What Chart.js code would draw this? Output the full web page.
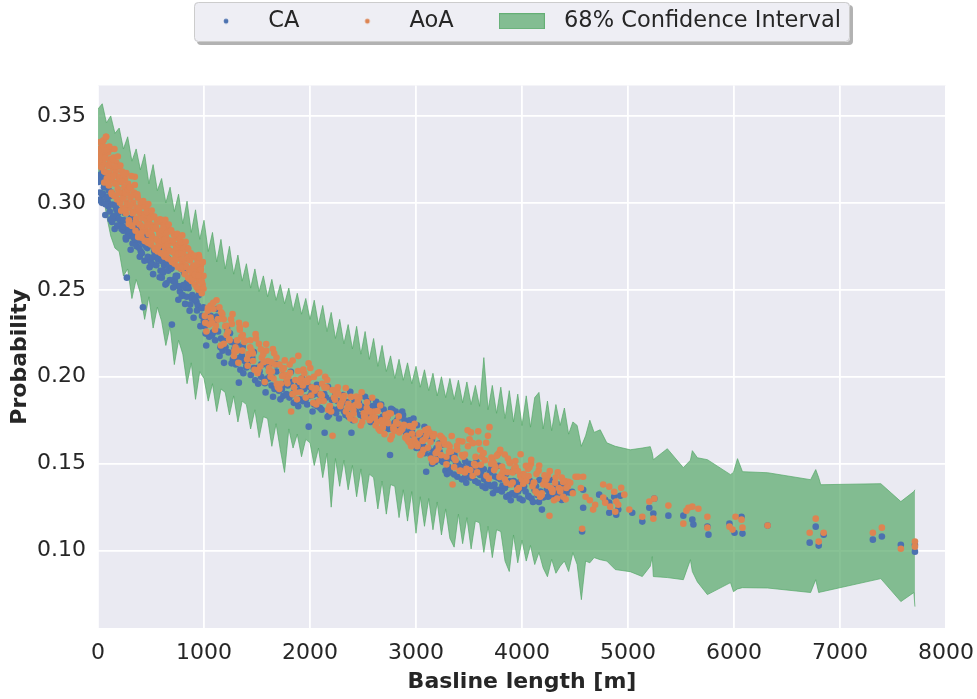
<!DOCTYPE html>
<html><head><meta charset="utf-8">
<script src="https://cdn.jsdelivr.net/npm/chart.js@4.4.1/dist/chart.umd.min.js"></script>
<style>html,body{margin:0;padding:0;background:#fff}#wrap{width:977px;height:699px}</style>
</head><body><div id="wrap"><canvas id="c" width="977" height="699"></canvas></div>
<script>
// ---------- tick values ----------
const xTicks = [0,1000,2000,3000,4000,5000,6000,7000,8000];
const yTicks = [0.10,0.15,0.20,0.25,0.30,0.35];
const seriesNames = ['CA','AoA','68% Confidence Interval'];

// ---------- 68% confidence band ----------
const bandX = [0,40,80,120,160,200,240,280,320,360,400,440,480,520,560,600,640,680,720,760,
800,840,880,920,960,1000,1040,1080,1120,1160,1200,1240,1280,1320,1360,1400,1440,1480,1520,1560,
1600,1640,1680,1720,1760,1800,1840,1880,1920,1960,2000,2040,2080,2120,2160,2200,2240,2280,2320,2360,
2400,2440,2480,2520,2560,2600,2640,2680,2720,2760,2800,2840,2880,2920,2960,3000,3040,3080,3120,3160,
3200,3240,3280,3320,3360,3400,3440,3480,3520,3560,3600,3640,3680,3720,3760,3800,3840,3880,3920,3960,
4000,4040,4080,4120,4160,4200,4240,4280,4320,4360,4400,4440,4480,4520,4560,4600,4640,4680,
4738,4800,4880,5021,5135,5210,5229,5239,5371,5522,5589,5607,5655,5749,5967,5995,6033,6080,6317,6723,
6771,6799,6818,7385,7574,7697,7707];
const bandUpper = [.354,.357,.346,.350,.340,.343,.331,.338,.324,.331,.319,.328,.311,.322,.307,.314,.300,.309,.295,.305,
.288,.301,.283,.296,.279,.290,.272,.283,.266,.279,.262,.275,.259,.270,.255,.265,.251,.262,.249,.258,
.246,.256,.244,.253,.242,.251,.238,.248,.236,.245,.233,.244,.230,.241,.226,.237,.222,.233,.219,.230,
.216,.229,.213,.226,.210,.222,.206,.218,.203,.212,.199,.210,.198,.208,.196,.206,.194,.204,.192,.202,
.189,.200,.188,.199,.187,.198,.185,.197,.184,.195,.183,.211,.181,.195,.179,.194,.176,.192,.174,.190,
.172,.189,.171,.188,.191,.170,.186,.169,.184,.172,.182,.167,.174,.172,.160,.166,.175,.168,
.1695,.162,.160,.158,.159,.1598,.156,.1523,.1586,.1477,.152,.1575,.1534,.1523,.1437,.145,.1529,.1454,.1448,.1408,
.1466,.142,.1379,.1385,.1282,.134,.135];
const bandLower = [.318,.308,.293,.281,.274,.272,.258,.262,.245,.256,.248,.233,.246,.228,.240,.232,.218,.229,.207,.221,
.213,.196,.208,.187,.203,.199,.186,.196,.180,.193,.191,.178,.189,.174,.186,.184,.170,.181,.165,.177,
.176,.160,.173,.158,.145,.170,.159,.167,.154,.164,.162,.149,.159,.142,.156,.125,.153,.137,.152,.135,
.149,.131,.147,.128,.144,.142,.124,.140,.121,.138,.137,.119,.135,.117,.134,.110,.131,.114,.130,.112,
.128,.109,.124,.107,.102,.121,.104,.119,.101,.117,.116,.099,.114,.096,.112,.111,.094,.088,.109,.093,
.106,.094,.103,.092,.099,.090,.085,.095,.087,.091,.094,.088,.0989,.092,.0718,.094,.093,.096,
.0948,.094,.0891,.0879,.0851,.091,.0966,.0851,.0845,.0833,.0948,.088,.082,.0747,.0816,.0764,.078,.0787,.0785,.0759,
.0833,.0759,.0762,.0839,.0707,.0759,.0678];

// ---------- CA (blue) ----------
const caX = [3,8,14,19,26,31,37,44,50,56,63,69,76,83,90,97,104,111,118,125,
133,141,149,157,165,173,181,189,197,205,214,222,231,239,246,255,264,272,281,290,
299,308,317,326,336,345,355,364,374,384,394,404,414,424,434,444,454,465,476,482,
487,498,509,520,531,543,554,566,578,590,602,614,624,636,648,660,672,684,697,709,
722,734,747,760,773,786,799,812,825,838,851,864,877,890,903,916,929,942,955,968,
981,994,
6,22,38,54,70,86,102,118,134,150,166,182,198,214,230,246,262,278,294,310,
326,342,358,374,390,406,422,438,454,470,486,502,518,534,550,566,582,598,614,630,
646,662,678,694,710,726,742,758,774,790,806,822,838,854,870,886,902,918,934,950,
966,982,998,
1008,1021,1035,1049,1063,1077,1091,1105,1119,1133,1147,1161,1175,1189,1203,1217,1231,1245,1259,1273,
1287,1301,1315,1329,1343,1357,1371,1385,1399,1428,1413,1441,1455,1469,1483,1497,1511,1525,1539,1553,
1567,1581,1595,1609,1623,1637,1651,1665,1683,1693,1707,1721,1735,1749,1763,1777,1791,1805,1819,1833,
1847,1861,1875,1889,1903,1917,1931,1945,1959,1973,
1988,2002,2016,2024,2040,2054,2068,2082,2096,2110,2124,2138,2152,2166,2180,2194,2208,2232,2246,2260,
2274,2288,2307,2321,2335,2349,2363,2377,2391,2405,2419,2433,2447,2461,2475,2489,2503,2517,2531,2545,
2559,2573,2587,2601,2615,2629,2643,2657,2671,2685,2699,2713,2727,2741,2755,2780,2794,2808,2822,2836,
2850,2864,2878,2892,2906,2920,2934,2948,2962,2976,
2990,3004,3018,3032,3054,3068,3082,3096,3110,3124,3138,3152,3166,3180,3194,3208,3222,3236,3250,3264,
3278,3292,3306,3320,3348,3362,3376,3390,3404,3418,3432,3446,3460,3474,3488,3502,3516,3530,3544,3558,
3572,3586,3600,3614,3628,3642,3656,3670,3684,3698,3712,3726,3740,3754,3768,3782,3796,3810,3824,3838,
3852,3866,3880,3894,3908,3922,3936,3950,3964,3978,3992,4006,4020,4034,4048,4062,4076,4090,4104,4118,
4132,4146,4160,4174,4188,4217,4231,4245,4259,4273,4287,4301,4315,4329,4343,4357,4371,4385,4399,4413,
1015,1050,1085,1120,1155,1190,1225,1260,1295,1330,1365,1400,1435,1470,1505,1540,1575,1610,1645,1680,
1715,1750,1785,1820,1855,1890,1925,1960,1995,2030,2065,2100,2135,2170,2205,2240,2275,2310,2345,2380,
2415,2450,2485,2520,2555,2590,2625,2660,2695,2730,2765,2800,2835,2870,2905,2940,2975,3010,3045,3080,
3115,3150,3185,3220,3255,3290,3325,3360,3395,3430,3465,3500,3535,3570,3605,3640,3675,3710,3745,3780,
3815,3850,3885,3920,3955,3990,4025,4060,4095,4130,4165,4200,4235,4270,4305,4340,4375,4410,4445,
4473,4577,4577,4567,4728,4785,4823,4823,4870,4889,4908,4927,5040,5135,5201,5248,5239,5381,5522,5607,
5617,5749,5759,5957,6005,6071,6080,6317,6771,6714,6799,6846,7310,7395,7574,7707,7707];
const caY = [.312,.314,.316,.306,.302,.321,.300,.318,.305,.309,.309,.293,.311,.303,.301,.298,.299,.295,.304,.306,
.289,.292,.291,.285,.298,.296,.296,.294,.301,.287,.288,.285,.290,.284,.286,.294,.279,.257,.283,.281,
.286,.273,.288,.282,.280,.277,.278,.275,.282,.284,.269,.272,.271,.240,.278,.276,.276,.274,.280,.267,
.263,.266,.265,.259,.272,.270,.270,.268,.274,.261,.257,.260,.264,.253,.266,.268,.264,.262,.230,.255,
.256,.258,.258,.252,.249,.262,.247,.260,.251,.254,.253,.238,.256,.247,.246,.244,.243,.241,.249,.250,
.235,.240,
.3016,.3128,.3051,.3143,.2992,.3032,.3071,.2904,.2991,.2925,.2989,.2869,.2907,.2957,.2865,.2900,.2800,.2896,.2841,.2913,
.2766,.2845,.2788,.2860,.2741,.2776,.2812,.2667,.2749,.2690,.2758,.2643,.2687,.2737,.2641,.2674,.2572,.2665,.2609,.2676,
.2537,.2610,.2556,.2624,.2513,.2545,.2577,.2443,.2519,.2464,.2527,.2419,.2460,.2509,.2415,.2449,.2339,.2444,.2381,.2469,
.2291,.2394,.2322,
.229,.218,.233,.223,.235,.224,.231,.221,.239,.226,.212,.222,.215,.208,.217,.228,.214,.225,.220,.210,
.216,.207,.219,.1966,.204,.212,.202,.209,.206,.213,.209,.201,.211,.205,.198,.205,.196,.203,.200,.207,
.197,.191,.199,.199,.201,.195,.1885,.193,.203,.195,.192,.187,.193,.189,.196,.190,.195,.188,.197,.190,
.185,.192,.186,.183,.187,.194,.186,.193,.188,.184,
.1713,.189,.191,.180,.184,.185,.183,.190,.182,.181,.187,.1678,.188,.177,.178,.182,.180,.181,.179,.186,
.176,.183,.185,.180,.178,.179,.177,.184,.1678,.175,.187,.180,.188,.185,.178,.182,.177,.181,.179,.186,
.178,.174,.179,.176,.183,.176,.182,.175,.184,.177,.172,.179,.173,.170,.155,.181,.173,.180,.175,.171,
.177,.170,.178,.175,.168,.172,.167,.171,.169,.176,
.161,.159,.163,.163,.158,.160,.156,.1454,.167,.165,.155,.150,.157,.151,.159,.154,.157,.152,.161,.153,
.146,.144,.148,.145,.153,.155,.151,.1425,.149,.147,.141,.148,.142,.139,.143,.150,.142,.149,.144,.140,
.146,.139,.147,.144,.137,.141,.136,.140,.138,.145,.137,.133,.138,.135,.142,.135,.141,.134,.143,.136,
.131,.138,.132,.129,.133,.140,.132,.139,.134,.130,.136,.129,.137,.134,.141,.131,.140,.130,.128,.135,
.137,.132,.128,.134,.1236,.139,.138,.131,.133,.136,.136,.131,.131,.133,.138,.137,.136,.132,.133,.134,
.2248,.2344,.2255,.2346,.2169,.2213,.2257,.2077,.2173,.2107,.2173,.2053,.2094,.2142,.2040,.2072,.1963,.2057,.1995,.2071,
.1928,.2009,.1959,.2029,.1924,.1958,.1990,.1871,.1942,.1896,.1953,.1863,.1900,.1942,.1867,.1896,.1817,.1895,.1855,.1914,
.1805,.1868,.1829,.1885,.1803,.1831,.1856,.1754,.1811,.1770,.1815,.1737,.1766,.1800,.1734,.1749,.1663,.1721,.1668,.1712,
.1588,.1639,.1579,.1616,.1510,.1518,.1540,.1438,.1501,.1460,.1514,.1428,.1466,.1511,.1435,.1468,.1386,.1469,.1426,.1488,
.1373,.1440,.1399,.1457,.1368,.1399,.1431,.1315,.1388,.1341,.1406,.1306,.1351,.1406,.1327,.1365,.1291,.1370,.1335,
.1339,.135,.1247,.111,.1322,.1293,.1218,.1276,.131,.1207,.1236,.1316,.1218,.1167,.1247,.1299,.1213,.1201,.1201,.1178,
.115,.1138,.1092,.1155,.1103,.1195,.1098,.1144,.1138,.1046,.1029,.1092,.1063,.1081,.1034,.1034,.0994];

// ---------- AoA (orange) ----------
const aoaX = [4,9,15,21,27,33,40,46,52,58,64,71,76,83,89,95,102,108,114,121,
127,134,140,147,153,160,167,173,180,187,193,200,207,214,221,228,235,242,249,256,
263,270,277,284,291,298,
305,312,319,326,333,340,347,354,361,368,375,383,390,397,404,411,418,426,433,441,
448,456,463,471,478,486,494,501,509,517,525,532,540,548,556,563,571,579,587,595,
603,611,619,627,635,643,
651,659,667,675,683,691,699,707,715,723,731,739,747,755,763,771,779,787,795,803,
811,819,827,835,843,851,859,867,875,883,891,899,907,915,923,931,939,947,955,963,
971,979,987,995,951,988,
3,11,19,27,35,43,51,59,67,75,83,91,99,107,115,123,131,139,147,155,
163,171,179,187,195,203,211,219,227,235,243,251,259,267,275,283,291,299,307,315,
323,331,339,347,355,363,371,379,387,395,403,411,419,427,435,443,451,459,467,475,
483,491,499,507,515,523,531,539,547,555,563,571,579,587,595,603,611,619,627,635,
643,651,659,667,675,683,691,699,707,715,723,731,739,747,755,763,771,779,787,795,
803,811,819,827,835,843,851,859,867,875,883,891,899,907,915,923,931,939,947,955,
963,971,979,987,995,76,
1008,1022,1035,1049,1063,1077,1090,1104,1118,1131,1145,1159,1173,1186,1200,1214,1228,1241,1255,1269,
1283,1297,1310,1324,1338,1352,1366,1380,1394,1407,1421,1435,1449,1463,1476,1490,1504,1518,1532,1546,
1559,1573,1587,1601,1615,1628,1642,1656,1670,1684,1697,1711,1725,1739,1753,1766,1780,1794,1808,1822,
1835,1849,1863,1877,1890,1904,1918,1932,1946,1960,1330,1650,
1975,1989,2003,2017,2031,2045,2059,2073,2087,2101,2115,2129,2143,2157,2171,2185,2199,2213,2227,2241,
2255,2269,2283,2297,2311,2325,2339,2353,2367,2381,2395,2409,2423,2437,2451,2465,2479,2493,2507,2521,
2535,2549,2563,2577,2591,2605,2619,2633,2647,2661,2675,2689,2703,2717,2731,2745,2759,2773,2787,2801,
2815,2829,2843,2857,2871,2885,2899,2913,2927,2941,2955,2969,2983,
2997,3012,3026,3041,3055,3070,3084,3099,3113,3128,3142,3157,3171,3186,3200,3215,3229,3244,3258,3273,
3287,3302,3316,3331,3345,3360,3374,3389,3403,3418,3432,3447,3461,3476,3490,3505,3519,3534,3548,3563,
3577,3592,3606,3621,3635,3650,3664,3679,3693,3708,3722,3737,3751,3766,3780,3795,3809,3824,3838,3853,
3867,3882,3896,3911,3925,3940,3954,3969,3983,3998,4012,4027,4041,4056,4070,4085,4099,4114,4128,4143,
4157,4172,4186,4201,4215,4230,4244,4259,4273,4288,4302,4317,4331,4346,4360,4375,4389,4404,4418,4433,
1012,1037,1062,1087,1112,1137,1162,1187,1212,1237,1262,1287,1312,1337,1362,1387,1412,1437,1462,1487,
1512,1537,1562,1587,1612,1637,1662,1687,1712,1737,1762,1787,1812,1837,1862,1887,1912,1937,1962,1987,
2012,2037,2062,2087,2112,2137,2162,2187,2212,2237,2262,2287,2312,2337,2362,2387,2412,2437,2462,2487,
2512,2537,2562,2587,2612,2637,2662,2687,2712,2737,2762,2787,2812,2837,2862,2887,2912,2937,2962,2987,
3012,3037,3062,3087,3112,3137,3162,3187,3212,3237,3262,3287,3312,3337,3362,3387,3412,3437,3462,3487,
3512,3537,3562,3587,3612,3637,3662,3687,3712,3737,3762,3787,3812,3837,3862,3887,3912,3937,3962,3987,
4012,4037,4062,4087,4112,4137,4162,4187,4212,4237,4262,4287,4312,4337,4362,4387,4412,4437,
4455,4480,4505,4530,4555,4577,4567,4600,4640,4671,4690,4766,4766,4785,4823,4832,4870,4880,4889,4908,
4936,4965,5012,5135,5201,5248,5239,5381,5522,5551,5570,5607,5664,5749,5749,5957,5986,6014,6071,6080,
6317,6771,6714,6799,6846,7310,7395,7574,7707,7707];
const aoaY = [.324,.331,.327,.335,.321,.329,.333,.323,.336,.318,.327,.332,.338,.314,.322,.329,.310,.317,.325,.331,
.306,.313,.320,.326,.304,.311,.318,.323,.302,.308,.315,.321,.300,.306,.312,.318,.297,.303,.309,.314,
.294,.300,.306,.311,.290,.297,
.303,.309,.287,.294,.300,.306,.315,.284,.291,.297,.303,.282,.288,.294,.300,.280,.286,.292,.298,.278,
.284,.290,.296,.277,.282,.288,.294,.276,.281,.287,.292,.274,.279,.285,.290,.272,.277,.283,.289,.271,
.276,.281,.287,.269,.274,.280,
.285,.268,.273,.278,.284,.267,.272,.277,.282,.265,.270,.275,.280,.263,.268,.273,.278,.262,.266,.271,
.276,.259,.264,.269,.274,.257,.262,.267,.271,.255,.259,.264,.269,.253,.257,.262,.267,.250,.255,.260,
.264,.248,.253,.258,.270,.266,
.3212,.3308,.3248,.3350,.3203,.3261,.3325,.3117,.3258,.3175,.3305,.3116,.3211,.3324,.3153,.3235,.3050,.3251,.3155,.3310,
.3039,.3208,.3114,.3267,.3057,.3136,.3215,.2955,.3124,.3025,.3166,.2960,.3057,.3172,.2992,.3077,.2878,.3091,.2988,.3154,
.2867,.3044,.2947,.3103,.2890,.2971,.3049,.2803,.2964,.2875,.3003,.2826,.2913,.3010,.2864,.2934,.2782,.2947,.2870,.2993,
.2780,.2911,.2838,.2956,.2798,.2860,.2922,.2731,.2859,.2789,.2895,.2748,.2821,.2905,.2780,.2842,.2707,.2856,.2787,.2902,
.2705,.2830,.2762,.2875,.2723,.2783,.2842,.2660,.2782,.2715,.2815,.2676,.2744,.2822,.2704,.2761,.2635,.2773,.2707,.2813,
.2628,.2740,.2674,.2776,.2631,.2683,.2735,.2563,.2672,.2608,.2697,.2566,.2626,.2697,.2586,.2638,.2515,.2648,.2582,.2687,
.2500,.2616,.2549,.2658,.2506,.338,
.235,.226,.238,.230,.241,.231,.239,.227,.244,.233,.240,.218,.236,.233,.229,.224,.226,.221,.233,.236,
.212,.217,.215,.208,.227,.223,.224,.220,.230,.210,.213,.217,.215,.209,.204,.222,.202,.219,.206,.211,
.213,.197,.215,.209,.205,.200,.203,.199,.207,.211,.194,.193,.196,.204,.205,.201,.198,.200,.207,.180,
.190,.194,.191,.187,.212,.197,.199,.195,.202,.188,.231,.216,
.197,.199,.205,.194,.185,.192,.184,.202,.186,.190,.196,.186,.200,.194,.181,.183,.180,.166,.188,.191,
.192,.190,.184,.185,.187,.189,.180,.182,.178,.176,.183,.181,.175,.184,.186,.188,.172,.174,.179,.177,
.182,.180,.175,.176,.178,.180,.172,.174,.170,.169,.175,.173,.167,.176,.177,.179,.164,.166,.171,.169,
.174,.173,.168,.169,.170,.172,.165,.166,.163,.162,.160,.171,.164,
.162,.160,.167,.155,.156,.158,.164,.166,.170,.168,.153,.151,.167,.156,.157,.159,.166,.165,.163,.161,
.154,.161,.160,.157,.138,.148,.152,.158,.163,.146,.155,.154,.145,.147,.160,.164,.168,.143,.150,.149,
.145,.162,.158,.154,.156,.152,.143,.166,.171,.150,.152,.150,.148,.155,.156,.158,.144,.146,.141,.139,
.153,.151,.138,.145,.147,.148,.135,.136,.143,.141,.144,.143,.140,.147,.148,.150,.137,.139,.134,.133,
.146,.131,.132,.138,.140,.141,.143,.120,.136,.135,.129,.142,.130,.136,.134,.142,.131,.140,.136,.137,
.2310,.2396,.2340,.2425,.2294,.2330,.2371,.2190,.2293,.2215,.2304,.2148,.2209,.2285,.2150,.2208,.2063,.2210,.2134,.2245,
.2038,.2158,.2083,.2188,.2032,.2084,.2135,.1959,.2070,.2004,.2094,.1962,.2022,.2093,.1981,.2033,.1910,.2042,.1976,.2078,
.1892,.1999,.1934,.2026,.1892,.1938,.1982,.1831,.1924,.1868,.1940,.1831,.1880,.1935,.1845,.1884,.1787,.1886,.1835,.1911,
.1770,.1853,.1803,.1879,.1767,.1802,.1835,.1708,.1781,.1733,.1789,.1697,.1733,.1772,.1696,.1723,.1644,.1717,.1672,.1730,
.1611,.1677,.1631,.1693,.1592,.1624,.1657,.1523,.1610,.1549,.1639,.1496,.1568,.1659,.1532,.1603,.1458,.1628,.1553,.1692,
.1463,.1618,.1539,.1686,.1494,.1561,.1620,.1414,.1535,.1464,.1545,.1424,.1484,.1553,.1451,.1503,.1392,.1515,.1458,.1554,
.1385,.1488,.1429,.1523,.1391,.1440,.1489,.1330,.1433,.1374,.1457,.1337,.1391,.1450,.1354,.1395,.1295,.1396,
.139,.133,.1425,.1425,.136,.1425,.1126,.131,.129,.1236,.1264,.138,.1305,.1276,.1368,.1253,.1339,.1224,.1282,.1264,
.1362,.1322,.1236,.1195,.1282,.1299,.1184,.1259,.1155,.123,.1247,.1253,.1241,.1195,.1132,.1138,.1121,.1195,.1178,.1132,
.1144,.1184,.1103,.1052,.1103,.1103,.1132,.1011,.1052,.1023];

// ---------- helpers ----------
const toPts = (xs, ys) => xs.map((x, i) => ({x: x, y: ys[i]}));
const BLUE = '#4C72B0', ORANGE = '#DD8452', GREEN = 'rgba(85,168,104,0.7)';
function mkDot(color) {
  const c = document.createElement('canvas'); c.width = 8; c.height = 8;
  const g = c.getContext('2d'); g.fillStyle = color; g.beginPath(); g.arc(4, 4, 2.4, 0, Math.PI * 2); g.fill();
  return c;
}
function mkRect() {
  const c = document.createElement('canvas'); c.width = 46; c.height = 16;
  const g = c.getContext('2d'); g.fillStyle = GREEN; g.fillRect(0, 0, 46, 16);
  g.strokeStyle = GREEN; g.lineWidth = 1; g.strokeRect(0.5, 0.5, 45, 15);
  return c;
}

const bgPlugin = {
  id: 'bgPlugin',
  afterLayout(chart) {
    if (chart.legend) { chart.legend.left -= 4; chart.legend.right -= 4; }
  },
  beforeDraw(chart) {
    const ctx = chart.ctx, a = chart.chartArea;
    ctx.save();
    ctx.fillStyle = '#ffffff'; ctx.fillRect(0, 0, chart.width, chart.height);
    ctx.fillStyle = '#EAEAF2'; ctx.fillRect(a.left, a.top, a.right - a.left, a.bottom - a.top);
    const hb = chart.legend && chart.legend.legendHitBoxes;
    if (hb && hb.length) {
      const last = hb[hb.length - 1];
      const L = hb[0].left - 1, R = last.left + last.width + 9, T = hb[0].top - 8, B = hb[0].top + 32;
      const rr = (x, y, w, h, r) => { ctx.beginPath(); ctx.moveTo(x + r, y); ctx.lineTo(x + w - r, y);
        ctx.quadraticCurveTo(x + w, y, x + w, y + r); ctx.lineTo(x + w, y + h - r);
        ctx.quadraticCurveTo(x + w, y + h, x + w - r, y + h); ctx.lineTo(x + r, y + h);
        ctx.quadraticCurveTo(x, y + h, x, y + h - r); ctx.lineTo(x, y + r);
        ctx.quadraticCurveTo(x, y, x + r, y); ctx.closePath(); };
      ctx.fillStyle = 'rgba(0,0,0,0.3)'; rr(L + 3, T + 3, R - L, B - T, 4); ctx.fill();
      ctx.fillStyle = '#EEEEF4'; rr(L, T, R - L, B - T, 4); ctx.fill();
      ctx.strokeStyle = '#CCCCCC'; ctx.lineWidth = 1; rr(L + 0.5, T + 0.5, R - L - 1, B - T - 1, 4); ctx.stroke();
    }
    ctx.restore();
  }
};

Chart.defaults.font.family = "'DejaVu Sans', sans-serif";
Chart.defaults.color = '#262626';

new Chart(document.getElementById('c'), {
  type: 'scatter',
  data: {
    datasets: [
      { label: seriesNames[0], data: toPts(caX, caY), backgroundColor: BLUE, pointRadius: 3.3, pointBorderWidth: 0, order: 1 },
      { label: seriesNames[1], data: toPts(aoaX, aoaY), backgroundColor: ORANGE, pointRadius: 3.3, pointBorderWidth: 0, order: 0 },
      { type: 'line', label: seriesNames[2], data: toPts(bandX, bandUpper), borderColor: GREEN, backgroundColor: GREEN,
        borderWidth: 1, pointRadius: 0, fill: '+1', tension: 0, order: 2 },
      { type: 'line', label: 'lower', data: toPts(bandX, bandLower), borderColor: GREEN, backgroundColor: GREEN,
        borderWidth: 1, pointRadius: 0, fill: false, tension: 0, order: 3 }
    ]
  },
  options: {
    responsive: false, animation: false, devicePixelRatio: 1, events: [],
    layout: { padding: { top: -27, right: 31, bottom: 0, left: 0 } },
    plugins: {
      tooltip: { enabled: false },
      title: { display: true, text: '', weight: 500, font: { size: 10, lineHeight: 1 }, padding: { top: 0, bottom: 33 } },
      legend: {
        position: 'top', fullSize: false, align: 'center',
        labels: {
          usePointStyle: true, pointStyleWidth: 62, padding: 37, color: '#262626', font: { size: 22.5 },
          generateLabels: () => [
            { text: seriesNames[0], pointStyle: mkDot(BLUE), fillStyle: BLUE, strokeStyle: BLUE, lineWidth: 0, hidden: false, datasetIndex: 0, fontColor: '#262626' },
            { text: seriesNames[1], pointStyle: mkDot(ORANGE), fillStyle: ORANGE, strokeStyle: ORANGE, lineWidth: 0, hidden: false, datasetIndex: 1, fontColor: '#262626' },
            { text: seriesNames[2], pointStyle: mkRect(), fillStyle: GREEN, strokeStyle: GREEN, lineWidth: 0, hidden: false, datasetIndex: 2, fontColor: '#262626' }
          ]
        }
      }
    },
    scales: {
      x: {
        type: 'linear', min: 0, max: 8000,
        afterBuildTicks: s => { s.ticks = xTicks.map(v => ({ value: v })); },
        afterFit: s => { s.height = 71; s.paddingLeft = 0; s.paddingRight = 0; },
        ticks: { padding: 12, color: '#262626', font: { size: 22 }, callback: v => String(v), maxRotation: 0 },
        grid: { color: '#ffffff', lineWidth: 1.8, drawTicks: false },
        border: { display: false },
        title: { display: true, text: 'Basline length [m]', color: '#262626', font: { size: 22, weight: 'bold' }, padding: { top: 0, bottom: 4 } }
      },
      y: {
        type: 'linear', min: 0.0555, max: 0.3675,
        afterBuildTicks: s => { s.ticks = yTicks.map(v => ({ value: v })); },
        afterFit: s => { s.width = 98; s.paddingTop = 0; s.paddingBottom = 0; },
        ticks: { padding: 12, color: '#262626', font: { size: 22 }, callback: v => Number(v).toFixed(2) },
        grid: { color: '#ffffff', lineWidth: 1.8, drawTicks: false },
        border: { display: false },
        title: { display: true, text: 'Probability', color: '#262626', font: { size: 22, weight: 'bold' }, padding: { top: 7, bottom: 0 } }
      }
    }
  },
  plugins: [bgPlugin]
});
</script>
</body></html>
